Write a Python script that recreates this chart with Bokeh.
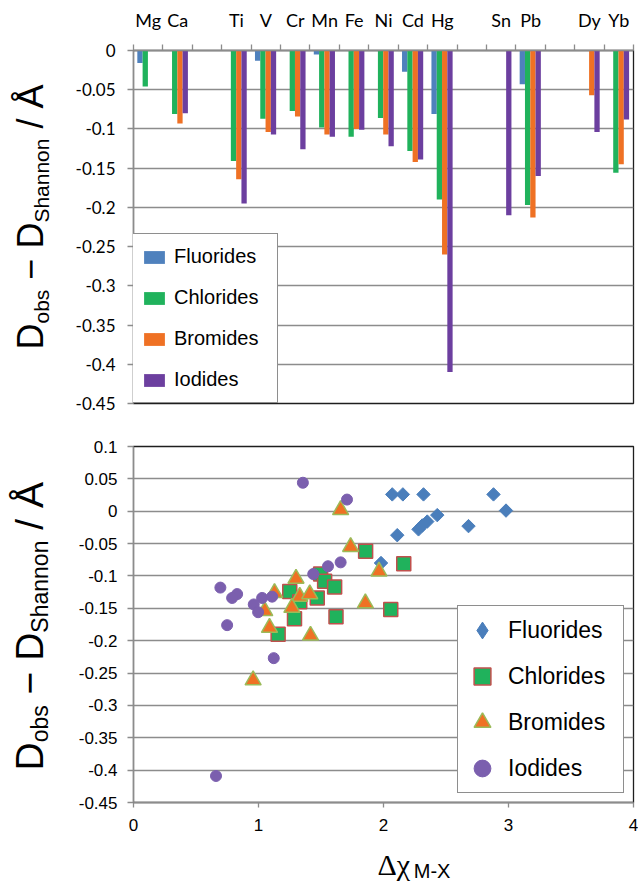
import math
import numpy as np
from bokeh.plotting import figure
from bokeh.models import (Range1d, FixedTicker, ColumnDataSource,
                          Legend, LegendItem)
from bokeh.core.properties import value
from bokeh.transform import dodge
from bokeh.layouts import column, row
from bokeh.embed import file_html
from bokeh.resources import INLINE

# ---------------- data: bar chart ----------------
metals = ["Mg", "Ca", "", "Ti", "V", "Cr", "Mn", "Fe", "Ni", "Cd", "Hg",
          "", "Sn", "Pb", "", "Dy", "Yb"]
bar_fluorides = [-0.016, None, None, None, -0.013, None, -0.005, None, None,
                 -0.027, -0.081, None, None, -0.043, None, None, None]
bar_chlorides = [-0.046, -0.081, None, -0.141, -0.087, -0.077, -0.098, -0.110,
                 -0.086, -0.128, -0.190, None, None, -0.197, None, None, -0.156]
bar_bromides = [None, -0.093, None, -0.164, -0.104, -0.084, -0.107, -0.100,
                -0.107, -0.142, -0.260, None, None, -0.213, None, -0.057, -0.145]
bar_iodides = [None, -0.080, None, -0.195, -0.107, -0.126, -0.110, -0.101,
               -0.122, -0.139, -0.410, None, -0.210, -0.160, None, -0.104, -0.088]
bar_yticks = [0.0, -0.05, -0.1, -0.15, -0.2, -0.25, -0.3, -0.35, -0.4, -0.45]
bar_ytick_labels = ["0", "-0.05", "-0.1", "-0.15", "-0.2", "-0.25", "-0.3",
                    "-0.35", "-0.4", "-0.45"]

# ---------------- data: scatter chart ----------------
fluor_x = [2.07, 2.155, 2.32, 2.88, 2.98, 2.43, 2.28, 2.31, 2.35, 2.68, 2.11, 1.98]
fluor_y = [0.026, 0.026, 0.026, 0.026, 0.001, -0.006, -0.028, -0.022, -0.016,
           -0.023, -0.037, -0.080]
chlor_x = [1.857, 2.162, 2.058, 1.497, 1.529, 1.609, 1.25, 1.33, 1.47, 1.288,
           1.62, 1.157]
chlor_y = [-0.062, -0.081, -0.152, -0.097, -0.108, -0.117, -0.124, -0.140,
           -0.134, -0.166, -0.163, -0.190]
brom_x = [1.657, 1.737, 1.964, 1.30, 1.128, 1.33, 1.41, 1.855, 1.267, 1.05,
          1.088, 1.416, 0.957]
brom_y = [0.002, -0.055, -0.093, -0.104, -0.126, -0.132, -0.128, -0.142,
          -0.149, -0.154, -0.180, -0.192, -0.261]
iod_x = [1.355, 1.708, 1.657, 1.556, 1.438, 0.695, 0.829, 0.789, 1.029, 1.109,
         0.962, 0.997, 0.749, 1.122, 0.66]
iod_y = [0.044, 0.018, -0.079, -0.085, -0.097, -0.118, -0.128, -0.134, -0.134,
         -0.132, -0.144, -0.156, -0.176, -0.227, -0.409]
sc_yticks = [0.1, 0.05, 0.0, -0.05, -0.1, -0.15, -0.2, -0.25, -0.3, -0.35,
             -0.4, -0.45]
sc_ytick_labels = ["0.1", "0.05", "0", "-0.05", "-0.1", "-0.15", "-0.2",
                   "-0.25", "-0.3", "-0.35", "-0.4", "-0.45"]
sc_xticks = [0.0, 1.0, 2.0, 3.0, 4.0]
sc_xtick_labels = ["0", "1", "2", "3", "4"]

GRID = "#8c8c8c"
DARK = "#1e1e1e"
PAGE_W, PAGE_H = 638, 884
LAB_W = 60
MID = 0.35  # distance (em) from the alphabetic baseline up to the text middle

# approximate advance widths (Arial / Liberation Sans metrics, em units)
W = {"D": .722, "o": .556, "b": .556, "s": .5, " ": .278, "\u2212": .584,
     "S": .667, "h": .556, "a": .556, "n": .556, "/": .278, "\u00c5": .667}


def blank_fig(w, h):
    f = figure(width=w, height=h, x_range=Range1d(0, w), y_range=Range1d(0, h),
               x_axis_type=None, y_axis_type=None, min_border=0, title=None,
               output_backend="svg", toolbar_location=None,
               outline_line_color=None)
    f.xgrid.visible = False
    f.ygrid.visible = False
    return f


def rotated_title(fig, pieces, bx, by):
    """Text running bottom-to-top; bx = baseline x, by = start y (up)."""
    for text, size, shift in pieces:
        lead = len(text) - len(text.lstrip())
        fig.text(x=[bx + shift - MID * size], y=[by + lead * W[" "] * size],
                 text=[text.strip()], angle=math.pi / 2,
                 text_font=value("Liberation Sans"),
                 text_font_size=value(f"{size}px"), text_color="black",
                 text_align=value("left"), text_baseline=value("middle"))
        by += sum(W.get(c, .556) for c in text) * size


# ---------------- top: bar chart ----------------
p = figure(width=PAGE_W - LAB_W, height=420, x_range=Range1d(0, 17),
           y_range=Range1d(-0.45, 0), x_axis_location="above",
           output_backend="svg", toolbar_location=None,
           min_border_left=129 - LAB_W, min_border_right=1, min_border_top=50,
           min_border_bottom=17, outline_line_color=DARK,
           outline_line_width=1.3)

centers = [i + 0.5 for i in range(len(metals))]
edges = [float(i) for i in range(len(metals) + 1)]
p.xaxis.ticker = FixedTicker(ticks=centers, minor_ticks=edges)
p.xaxis.major_label_overrides = dict(zip(centers, metals))
p.xaxis.major_tick_line_color = None
p.xaxis.major_tick_out = 0
p.xaxis.major_tick_in = 0
p.xaxis.minor_tick_out = 6
p.xaxis.minor_tick_in = 0
p.xaxis.minor_tick_line_color = GRID
p.xaxis.minor_tick_line_width = 1.3
p.xaxis.axis_line_color = GRID
p.xaxis.axis_line_width = 1.3
p.xaxis.major_label_standoff = 14
p.xaxis.major_label_text_font = "Lato"
p.xaxis.major_label_text_font_size = "18px"
p.xaxis.major_label_text_color = "black"

p.yaxis.ticker = FixedTicker(ticks=bar_yticks)
p.yaxis.major_label_overrides = dict(zip(bar_yticks, bar_ytick_labels))
p.yaxis.major_tick_out = 6
p.yaxis.major_tick_in = 0
p.yaxis.major_tick_line_color = GRID
p.yaxis.major_tick_line_width = 1.3
p.yaxis.axis_line_color = GRID
p.yaxis.axis_line_width = 1.3
p.yaxis.major_label_standoff = 12
p.yaxis.major_label_text_font = "Lato"
p.yaxis.major_label_text_font_size = "17px"
p.yaxis.major_label_text_color = "black"

p.xgrid.visible = False
p.ygrid.ticker = FixedTicker(ticks=bar_yticks[1:-1])
p.ygrid.grid_line_color = GRID
p.ygrid.grid_line_width = 1.3

bar_series = [("Fluorides", bar_fluorides, "#4f81bd", -0.28),
              ("Chlorides", bar_chlorides, "#20b25c", -0.10),
              ("Bromides", bar_bromides, "#ef7124", 0.08),
              ("Iodides", bar_iodides, "#6c3f9f", 0.26)]
bar_items = []
for name, vals, color, off in bar_series:
    pos = [c for c, v in zip(centers, vals) if v is not None]
    tops = [v for v in vals if v is not None]
    src = ColumnDataSource(dict(pos=pos, val=tops))
    r = p.vbar(x=dodge("pos", off), top="val", bottom=0, width=0.18,
               source=src, fill_color=color, line_color=None)
    bar_items.append(LegendItem(label=name, renderers=[r]))

leg1 = Legend(items=bar_items, location=(-4, 0), margin=0, padding=11,
              spacing=18, glyph_width=26, glyph_height=16, label_height=23,
              label_width=92, label_standoff=7,
              label_text_font="Liberation Sans", label_text_font_size="20px",
              label_text_color="black", border_line_color=DARK,
              border_line_width=1.5, background_fill_color="white",
              background_fill_alpha=1.0)
p.add_layout(leg1)

# ---------------- bottom: scatter chart ----------------
s = figure(width=PAGE_W - LAB_W, height=422, x_range=Range1d(0, 4),
           y_range=Range1d(-0.45, 0.1), output_backend="svg",
           toolbar_location=None, min_border_left=133 - LAB_W,
           min_border_right=5, min_border_top=26, min_border_bottom=40,
           outline_line_color=DARK, outline_line_width=1.3)

s.xaxis.ticker = FixedTicker(ticks=sc_xticks)
s.xaxis.major_label_overrides = dict(zip(sc_xticks, sc_xtick_labels))
s.yaxis.ticker = FixedTicker(ticks=sc_yticks)
s.yaxis.major_label_overrides = dict(zip(sc_yticks, sc_ytick_labels))
for ax in (s.xaxis, s.yaxis):
    ax.major_tick_in = 0
    ax.major_tick_line_color = GRID
    ax.major_tick_line_width = 1.3
    ax.minor_tick_line_color = None
    ax.axis_line_color = GRID
    ax.axis_line_width = 1.3
    ax.major_label_text_font = "Liberation Sans"
    ax.major_label_text_font_size = "17px"
    ax.major_label_text_color = "black"
s.xaxis.major_tick_out = 5
s.xaxis.major_label_standoff = 11
s.yaxis.major_tick_out = 6
s.yaxis.major_label_standoff = 10

s.xgrid.visible = False
s.ygrid.ticker = FixedTicker(ticks=sc_yticks[1:])
s.ygrid.grid_line_color = GRID
s.ygrid.grid_line_width = 1.3

r_f = s.scatter(x="x", y="y", source=ColumnDataSource(dict(x=fluor_x, y=fluor_y)),
                marker="square", angle=math.pi / 4, size=9.5,
                fill_color="#4a7ebb", line_color="#4a7ebb")
r_f_leg = s.scatter(x=np.array([np.nan]), y=np.array([np.nan]), marker="diamond",
                    fill_color="#4a7ebb", line_color="#4a7ebb")
r_c = s.scatter(x="x", y="y", source=ColumnDataSource(dict(x=chlor_x, y=chlor_y)),
                marker="square", size=14, fill_color="#20b25c",
                line_color="#c0504d", line_width=1.5)
r_b = s.scatter(x="x", y="y", source=ColumnDataSource(dict(x=brom_x, y=brom_y)),
                marker="triangle", size=16, fill_color="#ef7124",
                line_color="#9bbb59", line_width=1.5)
r_i = s.scatter(x="x", y="y", source=ColumnDataSource(dict(x=iod_x, y=iod_y)),
                marker="circle", size=11, fill_color="#7b5fae",
                line_color="#7b5fae")

leg2 = Legend(items=[LegendItem(label="Fluorides", renderers=[r_f_leg]),
                     LegendItem(label="Chlorides", renderers=[r_c]),
                     LegendItem(label="Bromides", renderers=[r_b]),
                     LegendItem(label="Iodides", renderers=[r_i])],
              location="bottom_right", margin=9, padding=3, spacing=4,
              glyph_width=42, glyph_height=42, label_standoff=5,
              label_width=112, label_text_font="Liberation Sans",
              label_text_font_size="23px", label_text_color="black",
              border_line_color=DARK, border_line_width=1.5,
              background_fill_color="white", background_fill_alpha=1.0)
s.add_layout(leg2)

# ---------------- axis titles (rich text) ----------------
ylab = blank_fig(LAB_W, PAGE_H)
rotated_title(ylab, [("D", 36, 0), ("obs", 21, 5), (" \u2212 D", 36, 0),
                     ("Shannon", 21, 5), (" / \u00c5", 36, 0)],
              43, PAGE_H - 349)
rotated_title(ylab, [("D", 39, 0), ("obs", 23, 5), (" \u2212 D", 39, 0),
                     ("Shannon", 23, 5), (" / \u00c5", 39, 0)],
              43, PAGE_H - 770)

xlab_h = PAGE_H - 420 - 422
xlab = blank_fig(PAGE_W - LAB_W, xlab_h)
xlab.text(x=[342 - LAB_W], y=[10 + MID * 30], text=["\u0394\u03c7"],
          text_font=value("Liberation Serif"), text_font_size=value("30px"),
          text_color="black", text_align=value("left"),
          text_baseline=value("middle"))
xlab.text(x=[384 - LAB_W], y=[7 + MID * 20], text=["M-X"],
          text_font=value("Liberation Sans"), text_font_size=value("20px"),
          text_color="black", text_align=value("left"),
          text_baseline=value("middle"))

layout = row(ylab, column(p, s, xlab))
open("out.html", "w").write(file_html(layout, INLINE))
